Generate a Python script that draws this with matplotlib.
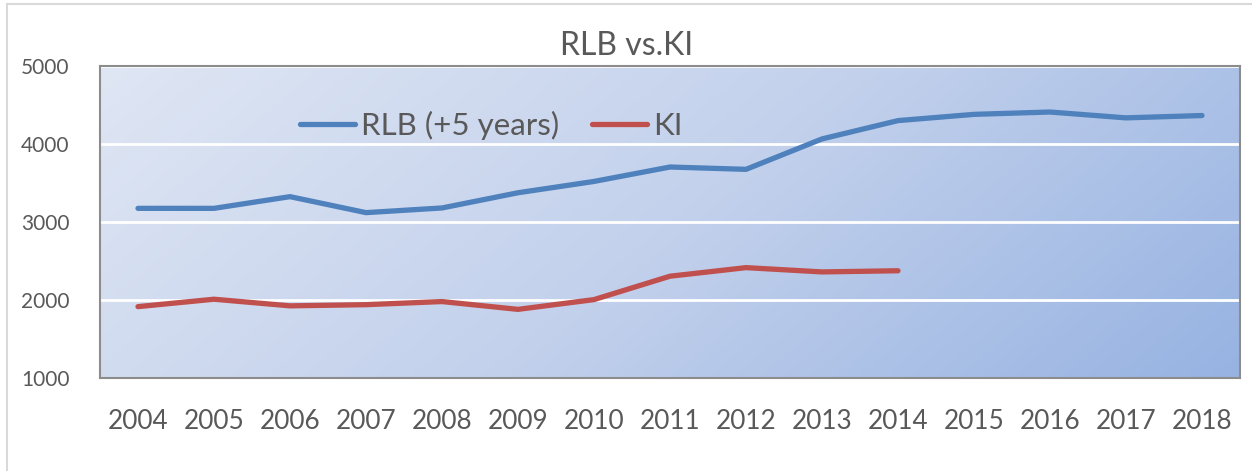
import numpy as np
import matplotlib
matplotlib.use("Agg")
import matplotlib.pyplot as plt
from matplotlib.colors import LinearSegmentedColormap
from matplotlib.lines import Line2D

years = ["2004", "2005", "2006", "2007", "2008", "2009", "2010", "2011",
         "2012", "2013", "2014", "2015", "2016", "2017", "2018"]
rlb = [3175, 3175, 3325, 3120, 3180, 3375, 3520, 3705, 3675, 4065, 4300,
       4380, 4410, 4335, 4365]
ki = [1915, 2010, 1925, 1940, 1980, 1880, 2005, 2305, 2415, 2360, 2375]

title = "RLB vs.KI"
labels = ["RLB (+5 years)", "KI"]
yticks = [1000, 2000, 3000, 4000, 5000]

plt.rcParams['font.family'] = ['Lato', 'DejaVu Sans']
W, H = 1252, 471
fig = plt.figure(figsize=(W / 100, H / 100), dpi=100)
fig.patch.set_facecolor('white')

# outer chart border (only top and left visible)
fig.add_artist(Line2D([7 / W, 7 / W], [0, 1 - 4 / H], color='#d9d9d9', lw=1.5))
fig.add_artist(Line2D([7 / W, 1], [1 - 4 / H, 1 - 4 / H], color='#d9d9d9', lw=1.5))

ax = fig.add_axes([100 / W, 93 / H, 1140 / W, 312 / H])
x = np.arange(len(years))

# gradient background
n = 200
gx, gy = np.meshgrid(np.linspace(0, 1, n), np.linspace(0, 1, n))
grad = (gx * 0.75 + gy * 0.25)
cmap = LinearSegmentedColormap.from_list('bg', ['#dfe6f4', '#c3d1ec', '#97b3e2'])
ax.imshow(grad, extent=[0, 1, 0, 1], transform=ax.transAxes, cmap=cmap,
          aspect='auto', origin='upper', zorder=0, interpolation='bicubic')

ax.set_xlim(-0.5, len(years) - 0.5)
ax.set_ylim(1000, 5000)
ax.set_yticks(yticks)
ax.yaxis.grid(True, color='white', lw=2, zorder=1)
ax.set_axisbelow(False)

ax.plot(x, rlb, color='#4f81bd', lw=3.8, solid_capstyle='round',
        solid_joinstyle='round', zorder=3, label=labels[0])
ax.plot(x[:len(ki)], ki, color='#c0504d', lw=3.8, solid_capstyle='round',
        solid_joinstyle='round', zorder=3, label=labels[1])

ax.set_xticks(x)
ax.set_xticklabels(years, fontsize=18.8, color='#595959')
ax.tick_params(axis='x', length=0, pad=22)
ax.tick_params(axis='y', length=0, pad=22, labelsize=15, labelcolor='#595959')

for s in ax.spines.values():
    s.set_color('#8c8c8c')
    s.set_linewidth(1.5)
    s.set_zorder(4)

leg = ax.legend(ncol=2, loc='center left', bbox_to_anchor=(200 / 1140, (378 - 125) / 312),
                frameon=False, fontsize=22.5, handlelength=1.75, handletextpad=0.2,
                columnspacing=1.05, borderaxespad=0, borderpad=0)
for t in leg.get_texts():
    t.set_color('#595959')

fig.text(627 / W, 1 - 46 / H, title, ha='center', va='center', fontsize=23, color='#595959')

fig.savefig('out.png', dpi=100)
